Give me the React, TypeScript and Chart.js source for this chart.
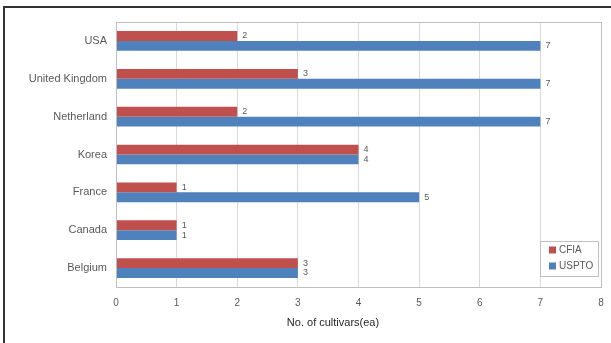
import React, { useEffect, useRef } from "react";
import { Chart, registerables } from "chart.js";

Chart.register(...registerables);

const categories = ["USA", "United Kingdom", "Netherland", "Korea", "France", "Canada", "Belgium"];
const cfiaValues = [2, 3, 2, 4, 1, 1, 3];
const usptoValues = [7, 7, 7, 4, 5, 1, 3];
const seriesNames = ["CFIA", "USPTO"];
const seriesColors = ["#C0504D", "#4F81BD"];
const xTitle = "No. of cultivars(ea)";

const FONT = "'Liberation Sans', Arial, sans-serif";

const decorPlugin = {
  id: "decor",
  beforeDraw(chart: any) {
    const ctx = chart.ctx;
    ctx.save();
    ctx.fillStyle = "#ffffff";
    ctx.fillRect(0, 0, chart.width, chart.height);
    ctx.restore();
  },
  afterDatasetsDraw(chart: any) {
    const ctx = chart.ctx;
    const area = chart.chartArea;
    ctx.save();
    // plot border
    ctx.strokeStyle = "#bfbfbf";
    ctx.lineWidth = 1;
    ctx.strokeRect(Math.round(area.left) + 0.5, Math.round(area.top) + 0.5, Math.round(area.right - area.left), Math.round(area.bottom - area.top));
    // outer frame
    ctx.strokeStyle = "#333333";
    ctx.lineWidth = 2;
    ctx.beginPath();
    ctx.moveTo(4, chart.height + 2);
    ctx.lineTo(4, 7);
    ctx.lineTo(chart.width + 2, 7);
    ctx.stroke();
    // data labels
    ctx.font = "9px " + FONT;
    ctx.fillStyle = "#595959";
    ctx.textAlign = "left";
    ctx.textBaseline = "middle";
    chart.data.datasets.forEach((ds: any, di: number) => {
      const meta = chart.getDatasetMeta(di);
      meta.data.forEach((bar: any, i: number) => {
        ctx.fillText(String(ds.data[i]), bar.x + 5, bar.y);
      });
    });
    // axis title
    ctx.font = "11px " + FONT;
    ctx.fillStyle = "#262626";
    ctx.textAlign = "center";
    ctx.fillText(xTitle, 333, 323);
    // legend
    const lx = 540, ly = 241, lw = 58, lh = 35;
    ctx.fillStyle = "#ffffff";
    ctx.fillRect(lx, ly, lw, lh);
    ctx.strokeStyle = "#bfbfbf";
    ctx.lineWidth = 1;
    ctx.strokeRect(lx + 0.5, ly + 0.5, lw, lh);
    ctx.font = "10px " + FONT;
    ctx.textAlign = "left";
    seriesNames.forEach((name, i) => {
      const cy = 250 + i * 16;
      ctx.fillStyle = seriesColors[i];
      ctx.fillRect(549, cy - 3.5, 7, 7);
      ctx.fillStyle = "#595959";
      ctx.fillText(name, 559, cy + 0.5);
    });
    ctx.restore();
  },
};

export default function App() {
  const ref = useRef<HTMLCanvasElement | null>(null);
  useEffect(() => {
    if (!ref.current) return;
    const chart = new Chart(ref.current, {
      type: "bar",
      data: {
        labels: categories,
        datasets: [
          { label: seriesNames[0], data: cfiaValues, backgroundColor: seriesColors[0], categoryPercentage: 0.52, barPercentage: 1 },
          { label: seriesNames[1], data: usptoValues, backgroundColor: seriesColors[1], categoryPercentage: 0.52, barPercentage: 1 },
        ],
      },
      options: {
        indexAxis: "y",
        animation: false,
        responsive: false,
        maintainAspectRatio: false,
        layout: { padding: { top: 22, right: 10, left: 0, bottom: 0 } },
        plugins: { legend: { display: false }, tooltip: { enabled: false } },
        scales: {
          x: {
            min: 0,
            max: 8,
            ticks: { stepSize: 1, color: "#595959", font: { size: 10, family: FONT }, padding: 10 },
            grid: { color: "#d9d9d9", drawTicks: false },
            border: { display: false },
            afterFit(scale: any) {
              scale.height = 56;
              scale.paddingRight = 0;
              scale.paddingLeft = 0;
            },
          },
          y: {
            ticks: { color: "#595959", font: { size: 11, family: FONT }, padding: 9 },
            grid: { display: false, drawTicks: false },
            border: { display: false },
            afterFit(scale: any) {
              scale.width = 116;
              scale.paddingTop = 0;
              scale.paddingBottom = 0;
            },
          },
        },
      },
      plugins: [decorPlugin],
    } as any);
    return () => chart.destroy();
  }, []);
  return (
    <div style={{ position: "fixed", left: 0, top: 0, width: 611, height: 343, background: "#fff" }}>
      <canvas ref={ref} width={611} height={343} style={{ display: "block", width: 611, height: 343 }} />
    </div>
  );
}
